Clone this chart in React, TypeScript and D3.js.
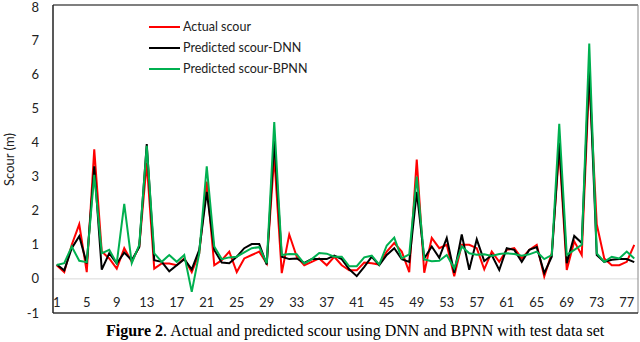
import React from "react";
import * as d3 from "d3";

// sample index 1..78
const samples = d3.range(1, 79).map(String);

const actualScour = [
  0.4, 0.2, 1.0, 1.6, 0.2, 3.8, 0.8, 0.6, 0.3, 0.9, 0.5, 0.95, 3.4, 0.3, 0.45, 0.45, 0.4, 0.6, 0.2, 0.75,
  2.85, 0.4, 0.55, 0.8, 0.2, 0.6, 0.7, 0.8, 0.45, 3.6, 0.17, 1.3, 0.65, 0.4, 0.5, 0.6, 0.4, 0.65, 0.4, 0.25,
  0.25, 0.48, 0.46, 0.42, 0.8, 1.05, 0.8, 0.2, 3.5, 0.18, 1.2, 0.9, 1.0, 0.08, 1.0, 1.0, 0.9, 0.28, 0.8, 0.5,
  0.85, 0.9, 0.6, 0.85, 1.0, 0.07, 0.75, 3.8, 0.26, 1.1, 0.7, 5.9, 1.6, 0.6, 0.4, 0.4, 0.5, 1.0,
];

const predictedDNN = [
  0.42, 0.25, 0.9, 1.25, 0.45, 3.3, 0.27, 0.75, 0.45, 0.77, 0.55, 0.93, 3.95, 0.55, 0.5, 0.22, 0.4, 0.58, 0.28, 0.85,
  2.55, 0.85, 0.48, 0.46, 0.65, 0.9, 1.02, 1.02, 0.42, 4.05, 0.65, 0.58, 0.6, 0.47, 0.58, 0.58, 0.58, 0.68, 0.58, 0.28,
  0.08, 0.35, 0.65, 0.4, 0.7, 0.9, 0.58, 0.5, 2.55, 0.6, 0.95, 0.62, 1.2, 0.18, 1.3, 0.27, 1.16, 0.52, 0.7, 0.26,
  0.9, 0.85, 0.5, 0.85, 0.93, 0.17, 0.65, 4.0, 0.46, 1.26, 1.05, 6.2, 0.7, 0.5, 0.56, 0.58, 0.58, 0.49,
];

const predictedBPNN = [
  0.41, 0.46, 0.95, 0.53, 0.49, 3.05, 0.75, 0.85, 0.46, 2.2, 0.46, 1.0, 3.9, 0.75, 0.5, 0.7, 0.5, 0.7, -0.38, 0.75,
  3.3, 0.95, 0.58, 0.63, 0.65, 0.78, 0.9, 0.93, 0.46, 4.6, 0.7, 0.73, 0.72, 0.45, 0.58, 0.76, 0.74, 0.65, 0.65, 0.37,
  0.37, 0.63, 0.68, 0.42, 0.98, 1.21, 0.6, 0.72, 3.0, 0.57, 0.52, 0.53, 0.7, 0.31, 0.95, 0.75, 0.71, 0.72, 0.67, 0.73,
  0.75, 0.73, 0.68, 0.72, 0.8, 0.58, 0.7, 4.55, 0.7, 0.85, 1.0, 6.9, 0.75, 0.5, 0.65, 0.6, 0.8, 0.6,
];

const series = [
  { name: "Actual scour", values: actualScour, color: "#ff0000" },
  { name: "Predicted scour-DNN", values: predictedDNN, color: "#000000" },
  { name: "Predicted scour-BPNN", values: predictedBPNN, color: "#00b050" },
];

const font = "Lato, 'Open Sans', sans-serif";

export default function App() {
  const width = 640;
  const height = 342;
  const plot = { left: 53, right: 638, top: 6, bottom: 313 };

  const x = d3.scaleBand().domain(samples).range([plot.left, plot.right]);
  const cx = (i: number) => (x(samples[i]) as number) + x.bandwidth() / 2;
  const y = d3.scaleLinear().domain([-1, 8]).range([plot.bottom, plot.top]);

  const line = d3
    .line<number>()
    .x((_, i) => cx(i))
    .y((d) => y(d));

  const yTicks = y.ticks(9);
  const xTicks = samples.filter((_, i) => i % 4 === 0);

  return (
    <svg
      width={width}
      height={height}
      style={{ position: "absolute", left: 0, top: 0, background: "#fff" }}
      fontFamily={font}
    >
      {/* zero gridline */}
      <line x1={plot.left} x2={plot.right} y1={y(0)} y2={y(0)} stroke="#d9d9d9" strokeWidth={1} />

      {/* plot frame */}
      <line x1={plot.left} x2={plot.right} y1={plot.top - 1} y2={plot.top - 1} stroke="#555" strokeWidth={1.5} />
      <line x1={plot.right} x2={plot.right} y1={plot.top - 1} y2={plot.bottom} stroke="#888" strokeWidth={1} />
      <line x1={plot.left} x2={plot.right} y1={plot.bottom} y2={plot.bottom} stroke="#333" strokeWidth={1.5} />
      <line x1={plot.left} x2={plot.left} y1={plot.top - 1} y2={plot.bottom} stroke="#222" strokeWidth={1.5} />

      {/* y tick labels */}
      {yTicks.map((t) => (
        <text key={t} x={39} y={Math.max(y(t), 7)} dy="0.35em" textAnchor="end" fontSize={13} fill="#222">
          {t}
        </text>
      ))}
      <text
        transform={`translate(9,${(plot.top + plot.bottom) / 2}) rotate(-90)`}
        textAnchor="middle"
        dy="0.35em"
        fontSize={13}
        fill="#222"
      >
        Scour (m)
      </text>

      {/* x tick labels */}
      {xTicks.map((c) => (
        <text
          key={c}
          x={(x(c) as number) + x.bandwidth() / 2}
          y={302}
          dy="0.35em"
          textAnchor="middle"
          fontSize={13}
          fill="#222"
        >
          {c}
        </text>
      ))}

      {/* series lines */}
      {series.map((s) => (
        <path
          key={s.name}
          d={line(s.values) || ""}
          fill="none"
          stroke={s.color}
          strokeWidth={2}
          strokeLinejoin="miter"
        />
      ))}

      {/* legend */}
      {series.map((s, i) => (
        <g key={s.name} transform={`translate(149,${27 + i * 21})`}>
          <line x1={0} x2={31} y1={0} y2={0} stroke={s.color} strokeWidth={2} />
          <text x={34} y={0} dy="0.35em" fontSize={12.5} fill="#222">
            {s.name}
          </text>
        </g>
      ))}

      {/* caption */}
      <text x={106} y={336} fontFamily="'Liberation Serif', 'Times New Roman', serif" fontSize={16} fill="#000">
        <tspan fontWeight="bold">Figure 2</tspan>
        <tspan>. Actual and predicted scour using DNN and BPNN with test data set</tspan>
      </text>
    </svg>
  );
}
